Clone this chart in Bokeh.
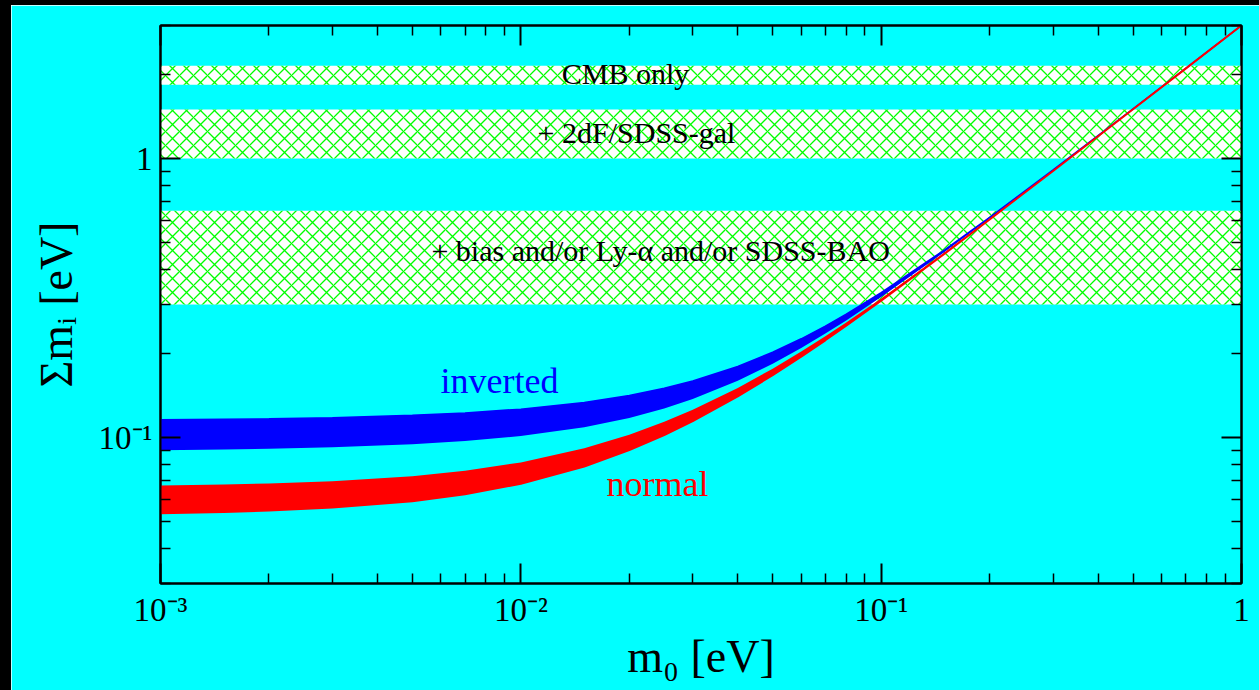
from bokeh.plotting import figure
from bokeh.models import Range1d, LogAxis, FixedTicker, ColumnDataSource, Spacer, CustomJSTickFormatter
from bokeh.layouts import column, row
from bokeh.core.properties import value
from bokeh.embed import file_html
from bokeh.resources import INLINE

# lightest neutrino mass m0 [eV]
m0 = [0.001, 0.0015, 0.002, 0.003, 0.005, 0.007, 0.01, 0.015, 0.02, 0.025,
      0.03, 0.04, 0.05, 0.06, 0.07, 0.08, 0.1, 0.15, 0.2, 0.3, 0.5, 0.7, 1.0]
# sum of masses, normal hierarchy band
normal_lo = [0.05360, 0.05418, 0.05481, 0.05615, 0.05919, 0.06262, 0.06832, 0.07881,
             0.09016, 0.10211, 0.11453, 0.14045, 0.16740, 0.19508, 0.22326, 0.25181,
             0.30967, 0.45660, 0.60499, 0.90335, 1.50202, 2.10144, 3.00101]
normal_hi = [0.06729, 0.06787, 0.06848, 0.06978, 0.07272, 0.07601, 0.08148, 0.09156,
             0.10244, 0.11390, 0.12581, 0.15069, 0.17667, 0.20347, 0.23088, 0.25876,
             0.31553, 0.46075, 0.60818, 0.90551, 1.50333, 2.10238, 3.00167]
# sum of masses, inverted hierarchy band
inverted_lo = [0.09013, 0.09065, 0.09119, 0.09231, 0.09466, 0.09720, 0.10132, 0.10902,
               0.11767, 0.12717, 0.13742, 0.15975, 0.18394, 0.20947, 0.23595, 0.26314,
               0.31895, 0.46295, 0.60981, 0.90658, 1.50396, 2.10283, 3.00199]
inverted_hi = [0.11578, 0.11630, 0.11683, 0.11792, 0.12019, 0.12261, 0.12649, 0.13362,
               0.14153, 0.15018, 0.15950, 0.17989, 0.20222, 0.22604, 0.25102, 0.27690,
               0.33059, 0.47120, 0.61614, 0.91088, 1.50656, 2.10470, 3.00329]

# cosmological upper-limit bands
band_names = ["CMB only", "+ 2dF/SDSS-gal", "+ bias and/or Ly-\u03b1 and/or SDSS-BAO"]
band_lo = [1.84, 1.0, 0.30]
band_hi = [2.15, 1.5, 0.65]
band_label_x = [0.01953, 0.02094, 0.02443]
band_label_y = [2.017, 1.24, 0.468]

curve_names = ["inverted", "normal"]
curve_label_x = [0.00873, 0.02394]
curve_label_y = [0.160, 0.0684]
curve_colors = ["#0000ff", "#ff0000"]

x_limits = [1e-3, 1.0]
y_limits = [0.03, 3.0]
x_major = [1e-3, 1e-2, 1e-1, 1.0]
x_tick_labels = ["10\u207b\u00b3", "10\u207b\u00b2", "10\u207b\u00b9", "1"]
y_major = [0.1, 1.0]
y_tick_labels = ["10\u207b\u00b9", "1"]


def minors(lo_exp, hi_exp):
    out = []
    for e in range(lo_exp, hi_exp + 1):
        for k in range(2, 10):
            out.append(k * 10.0 ** e)
    return out


x_minor = minors(-3, -1)
y_minor = minors(-2, 0)

SERIF = "Liberation Serif"
CYAN = "#00ffff"

p = figure(width=1248, height=685, x_axis_type="log", y_axis_type="log",
           x_range=Range1d(*x_limits), y_range=Range1d(*y_limits),
           output_backend="svg", toolbar_location=None,
           min_border_left=149, min_border_right=18, min_border_top=20,
           min_border_bottom=107)
p.background_fill_color = CYAN
p.border_fill_color = CYAN
p.grid.visible = False
p.outline_line_color = "black"
p.outline_line_width = 2

# hatched bands
band_src = ColumnDataSource(dict(left=[x_limits[0]] * 3, right=[x_limits[1]] * 3,
                                 bottom=band_lo, top=band_hi))
p.quad(left="left", right="right", bottom="bottom", top="top", source=band_src,
       fill_color="white", line_color=None, hatch_pattern="diagonal_cross",
       hatch_color="#00ff00", hatch_scale=14, hatch_weight=1.3)

# hierarchy bands
p.varea(x=m0, y1=inverted_lo, y2=inverted_hi, fill_color="#0000ff")
p.line(x=m0, y=inverted_hi, line_color="#0000ff", line_width=1.5)
p.varea(x=m0, y1=normal_lo, y2=normal_hi, fill_color="#ff0000")
p.line(x=m0, y=normal_lo, line_color="#ff0000", line_width=2)

# labels
p.text(x=band_label_x, y=band_label_y, text=band_names, text_font=value(SERIF),
       text_font_size="30px", text_align="center", text_baseline="middle",
       text_color="black")
p.text(x=curve_label_x, y=curve_label_y, text=curve_names, text_font=value(SERIF),
       text_font_size="36px", text_align="center", text_baseline="middle",
       text_color=curve_colors)

JS = """
let best = 0;
const lt = Math.log10(tick);
for (let i = 0; i < tvals.length; i++) {
  if (Math.abs(Math.log10(tvals[i]) - lt) < Math.abs(Math.log10(tvals[best]) - lt)) best = i;
}
return tlabels[best];
"""


def style_axis(ax, tick_vals, minor, labels=None, show=True):
    ax.ticker = FixedTicker(ticks=tick_vals, minor_ticks=minor)
    ax.axis_line_color = "black"
    ax.axis_line_width = 2
    ax.major_tick_in = 20
    ax.major_tick_out = 0
    ax.minor_tick_in = 10
    ax.minor_tick_out = 0
    ax.major_tick_line_width = 2
    ax.minor_tick_line_width = 1.5
    ax.major_tick_line_color = "black"
    ax.minor_tick_line_color = "black"
    if show:
        ax.formatter = CustomJSTickFormatter(args=dict(tvals=tick_vals, tlabels=labels), code=JS)
        ax.major_label_text_font = SERIF
        ax.major_label_text_font_size = "33px"
        ax.major_label_text_color = "black"
        ax.major_label_standoff = 8
        ax.axis_label_text_font = SERIF
        ax.axis_label_text_font_size = "46px"
        ax.axis_label_text_font_style = "normal"
        ax.axis_label_text_color = "black"
    else:
        ax.major_label_text_font_size = "6px"
        ax.major_label_text_alpha = 0
        ax.major_label_standoff = 0


style_axis(p.xaxis[0], x_major, x_minor, x_tick_labels)
style_axis(p.yaxis[0], y_major, y_minor, y_tick_labels)
p.xaxis[0].axis_label = "m\u2080 [eV]"
p.xaxis[0].axis_label_standoff = 0
p.yaxis[0].axis_label = "\u03a3m\u1d62 [eV]"
p.yaxis[0].axis_label_standoff = 14

top_ax = LogAxis()
right_ax = LogAxis()
style_axis(top_ax, x_major, x_minor, show=False)
style_axis(right_ax, y_major, y_minor, show=False)
p.add_layout(top_ax, "above")
p.add_layout(right_ax, "right")

left_bar = Spacer(width=11, height=690, styles={"background-color": "black"})
top_bar = Spacer(width=1248, height=5, styles={"background-color": "black"})
layout = row(left_bar, column(top_bar, p))

open("out.html", "w").write(file_html(layout, INLINE))
